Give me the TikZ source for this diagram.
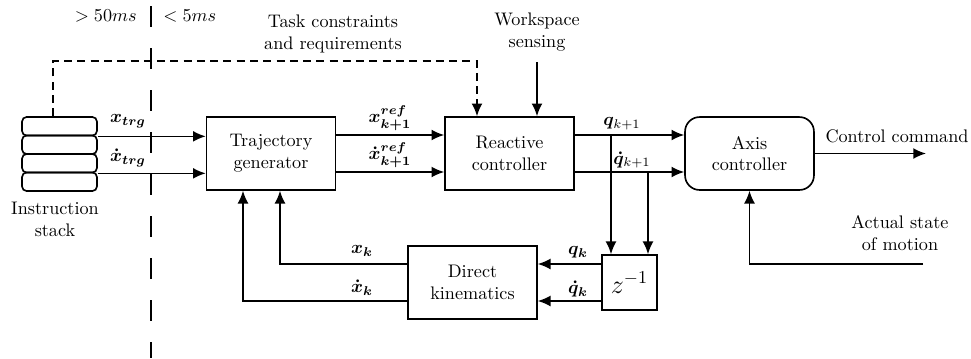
\documentclass[tikz,border=0pt]{standalone}
\usepackage{amsmath,bm}
\usetikzlibrary{arrows.meta,calc}
\begin{document}
\begin{tikzpicture}[x=0.55pt,y=-0.55pt,
  box/.style={draw,line width=0.9pt,minimum width=70.9pt,minimum height=40.1pt,align=center,inner sep=0pt},
  cell/.style={draw,line width=0.9pt,rounded corners=2.5pt,minimum width=41.2pt,minimum height=10.2pt,inner sep=0pt},
  conn/.style={line width=0.9pt},
  arr/.style={conn,-{Latex[length=7pt,width=6pt]}},
  dsh/.style={dash pattern=on 4.4pt off 2.9pt},
  lbl/.style={inner sep=0pt,align=center}]
\useasboundingbox (0,0) rectangle (971,358);
% boxes
\node[box] (traj) at (271,153.5) {Trajectory\\generator};
\node[box] (reac) at (509.5,153.5) {Reactive\\controller};
\node[box,rounded corners=8pt] (axis) at (749.5,153.5) {Axis\\controller};
\node[box] (dk) at (472.5,282.5) {Direct\\kinematics};
\node[box,minimum width=30.25pt,minimum height=30.25pt] (z) at (629.5,282.5) {\Large $z^{-1}$};
% instruction stack
\node[cell] (s1) at (59.5,126.25) {};
\node[cell] (s2) at (59.5,144.75) {};
\node[cell] (s3) at (59.5,163.25) {};
\node[cell] (s4) at (59.5,181.75) {};
\node[lbl] (ls) at (55,219) {Instruction\\stack};
% stack to trajectory generator
\draw[arr] (s1.south east) -- (traj.west |- s1.south east);
\draw[arr] (s3.south east) -- (traj.west |- s3.south east);
\node[lbl] (lxt) at (128,121) {$\bm{x_{trg}}$};
\node[lbl] (lxdt) at (128,158) {$\bm{\dot{x}_{trg}}$};
% trajectory to reactive
\coordinate (r1) at (0,135);
\coordinate (r2) at (0,172);
\draw[arr] (traj.east |- r1) -- (reac.west |- r1);
\draw[arr] (traj.east |- r2) -- (reac.west |- r2);
\node[lbl] (lxr) at (390,118) {$\bm{x^{ref}_{k+1}}$};
\node[lbl] (lxdr) at (390,155) {$\bm{\dot{x}^{ref}_{k+1}}$};
% reactive to axis
\draw[arr] (reac.east |- r1) -- (axis.west |- r1);
\draw[arr] (reac.east |- r2) -- (axis.west |- r2);
\node[lbl] (lq) at (622,124) {$\bm{q}_{k+1}$};
\node[lbl] (lqd) at (632,160) {$\bm{\dot{q}}_{k+1}$};
% to delay
\coordinate (v1) at (611,135);
\coordinate (v2) at (648,172);
\draw[arr] (v1) -- (v1 |- z.north);
\draw[arr] (v2) -- (v2 |- z.north);
% delay to direct kinematics
\coordinate (d1) at (0,264);
\coordinate (d2) at (0,301);
\draw[arr] (z.west |- d1) -- (dk.east |- d1);
\draw[arr] (z.west |- d2) -- (dk.east |- d2);
\node[lbl] (lqk) at (578,252) {$\bm{q_k}$};
\node[lbl] (lqdk) at (578,289) {$\bm{\dot{q}_k}$};
% direct kinematics to trajectory generator
\coordinate (t1) at (280,0);
\coordinate (t2) at (243,0);
\draw[arr] (dk.west |- d1) -| (t1 |- traj.south);
\draw[arr] (dk.west |- d2) -| (t2 |- traj.south);
\node[lbl] (lxk) at (362,251) {$\bm{x_k}$};
\node[lbl] (lxdk) at (362,288) {$\bm{\dot{x}_k}$};
% axis controller in/out
\coordinate (ms) at (923,264);
\draw[arr] (ms) -| (axis.south);
\node[lbl] (lms) at (900,233) {Actual state\\of motion};
\coordinate (cc) at (926,153.5);
\draw[arr] (axis.east) -- (cc);
\node[lbl] (lcc) at (897,136) {Control command};
% workspace sensing
\node[lbl] (ws) at (537,32) {Workspace\\sensing};
\coordinate (wsb) at (537,62);
\draw[arr] (wsb) -- (wsb |- reac.north);
% task constraints
\node[lbl] (tc) at (333,34) {Task constraints\\and requirements};
\coordinate (dc1) at (53,61);
\coordinate (dc2) at (477,61);
\draw[arr,dsh] (dc1 |- s1.north) -- (dc1) -- (dc2) -- (dc2 |- reac.north);
% divider
\coordinate (dv1) at (151,6);
\coordinate (dv2) at (151,358);
\draw[line width=1.6pt,dash pattern=on 11.55pt off 11.55pt] (dv1) -- (dv2);
\node[lbl,anchor=east] (lt1) at (137,16) {$>50ms$};
\node[lbl,anchor=west] (lt2) at (163,16) {$<5ms$};
\end{tikzpicture}
\end{document}
